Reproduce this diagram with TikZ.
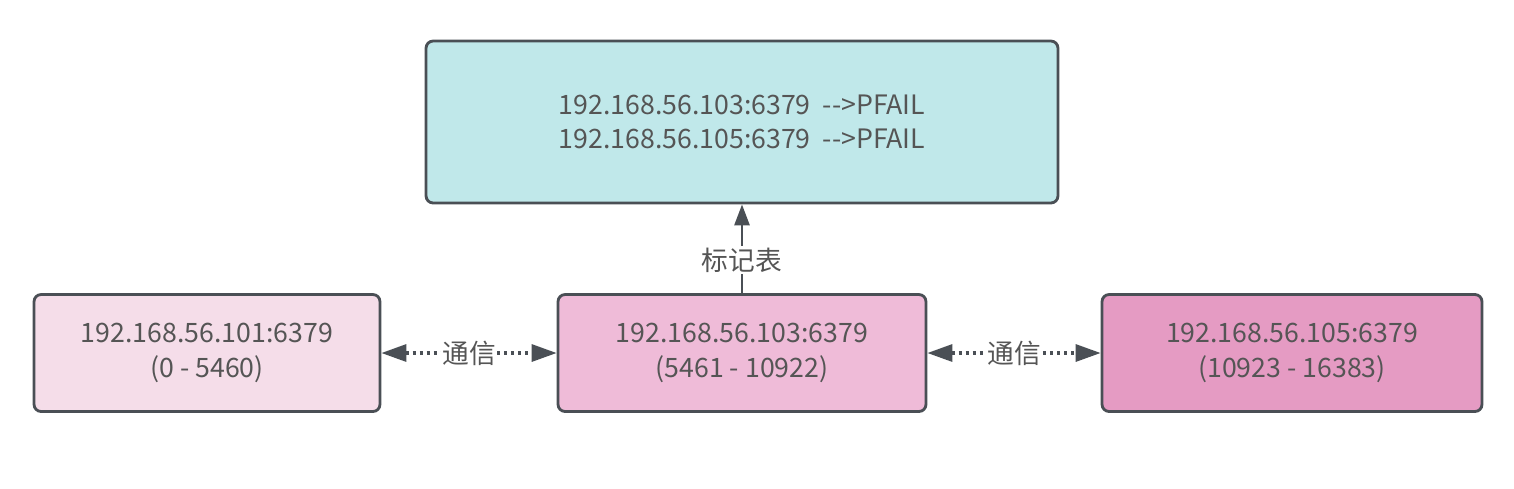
\documentclass[tikz,border=0pt]{standalone}
\usepackage{fontspec}
\setmainfont{Noto Sans CJK SC}
\usetikzlibrary{arrows.meta,positioning}
\definecolor{edgegray}{RGB}{74,79,85}
\definecolor{textgray}{RGB}{85,85,85}
\definecolor{tablecyan}{RGB}{192,232,234}
\definecolor{pinklight}{RGB}{245,221,233}
\definecolor{pinkmid}{RGB}{239,187,216}
\definecolor{pinkdark}{RGB}{229,155,195}

\begin{document}
\begin{tikzpicture}[
    x=0.02cm, y=-0.02cm,
    redis/.style={draw=edgegray, line width=1.6pt, rounded corners=4pt, minimum height=2.34cm,
        text=textgray, font=\fontsize{15.2}{19.5}\selectfont, align=center},
    link/.style={draw=edgegray, line width=1.8pt, dash pattern=on 1.8pt off 2.2pt, {Triangle[length=0.5cm,width=0.34cm]}-{Triangle[length=0.5cm,width=0.34cm]}},
    tag/.style={fill=white, text=textgray, inner sep=1pt, font=\fontsize{15.2}{19}\selectfont},
    >={Triangle[length=0.42cm,width=0.3cm]}
]
\useasboundingbox (0,0) rectangle (1514,488);
\node[redis, fill=tablecyan, minimum width=12.64cm, minimum height=3.24cm] (table) at (742,122)
    {192.168.56.103:6379\ \ {-}{-}>PFAIL\\192.168.56.105:6379\ \ {-}{-}>PFAIL};
\node[redis, fill=pinkmid, minimum width=7.36cm] (n103) at (742,353) {192.168.56.103:6379\\(5461 - 10922)};
\node[redis, fill=pinklight, minimum width=6.92cm] (n101) at (207,353) {192.168.56.101:6379\\(0 - 5460)};
\node[redis, fill=pinkdark, minimum width=7.6cm] (n105) at (1292,353) {192.168.56.105:6379\\(10923 - 16383)};
\draw[link] (n101) -- node[tag] {通信} (n103);
\draw[link] (n103) -- node[tag] {通信} (n105);
\draw[->, draw=edgegray, line width=1.6pt] (n103) -- node[tag, pos=0.37] {标记表} (table);
\end{tikzpicture}
\end{document}
